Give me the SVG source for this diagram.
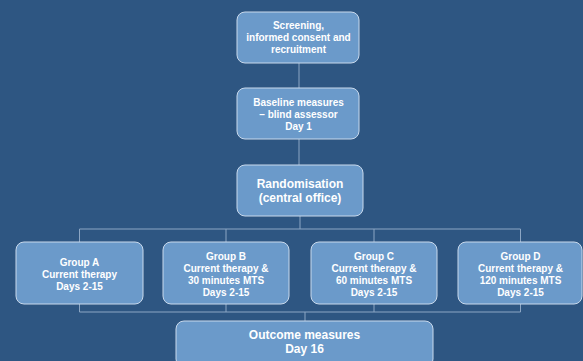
<svg xmlns="http://www.w3.org/2000/svg" width="583" height="361" viewBox="0 0 583 361">
<style>
.box{fill:#6B9ACA;stroke:#C9D9EC;stroke-width:1}
.t{font-family:"Liberation Sans",Arial,sans-serif;font-weight:bold;font-size:10px;fill:#FFFFFF;text-anchor:middle}
.l{font-size:12px}
.c{fill:none;stroke:#8CA6C4;stroke-width:1}
</style>
<rect x="0" y="0" width="583" height="361" fill="#2E5682"/>
<g id="connectors">
<path class="c" d="M299 63V88M299 139V165M300 216V229M79.5 229H520.5M79.5 229V242M226 229V242M374 229V242M520.5 229V242M79.5 304V312M226 304V312M374 304V312M520.5 304V312M79.5 312H520.5M305 312V321"/>
</g>
<g id="screening">
<rect class="box" x="237" y="12" width="122" height="51" rx="8"/>
<text class="t" x="298.5" y="28.5">Screening,</text>
<text class="t" x="298.5" y="40.5">informed consent and</text>
<text class="t" x="298.5" y="52.5">recruitment</text>
</g>
<g id="baseline">
<rect class="box" x="237" y="88" width="122" height="51" rx="8"/>
<text class="t" x="298.5" y="105.5">Baseline measures</text>
<text class="t" x="298.5" y="117.5">– blind assessor</text>
<text class="t" x="298.5" y="129.5">Day 1</text>
</g>
<g id="randomisation">
<rect class="box" x="237" y="165" width="126" height="51" rx="8"/>
<text class="t l" x="300" y="188">Randomisation</text>
<text class="t l" x="300" y="202">(central office)</text>
</g>
<g id="groupA">
<rect class="box" x="16" y="242" width="127" height="62" rx="8"/>
<text class="t" x="79.5" y="266">Group A</text>
<text class="t" x="79.5" y="278">Current therapy</text>
<text class="t" x="79.5" y="290">Days 2-15</text>
</g>
<g id="groupB">
<rect class="box" x="163" y="242" width="126" height="62" rx="8"/>
<text class="t" x="226" y="259.5">Group B</text>
<text class="t" x="226" y="271.5">Current therapy &amp;</text>
<text class="t" x="226" y="283.5">30 minutes MTS</text>
<text class="t" x="226" y="295.5">Days 2-15</text>
</g>
<g id="groupC">
<rect class="box" x="311" y="242" width="126" height="62" rx="8"/>
<text class="t" x="374" y="259.5">Group C</text>
<text class="t" x="374" y="271.5">Current therapy &amp;</text>
<text class="t" x="374" y="283.5">60 minutes MTS</text>
<text class="t" x="374" y="295.5">Days 2-15</text>
</g>
<g id="groupD">
<rect class="box" x="458" y="242" width="124" height="62" rx="8"/>
<text class="t" x="520.5" y="259.5">Group D</text>
<text class="t" x="520.5" y="271.5">Current therapy &amp;</text>
<text class="t" x="520.5" y="283.5">120 minutes MTS</text>
<text class="t" x="520.5" y="295.5">Days 2-15</text>
</g>
<g id="outcome">
<rect class="box" x="176" y="321" width="257" height="46" rx="8"/>
<text class="t l" x="304.5" y="339">Outcome measures</text>
<text class="t l" x="304.5" y="353">Day 16</text>
</g>
</svg>
